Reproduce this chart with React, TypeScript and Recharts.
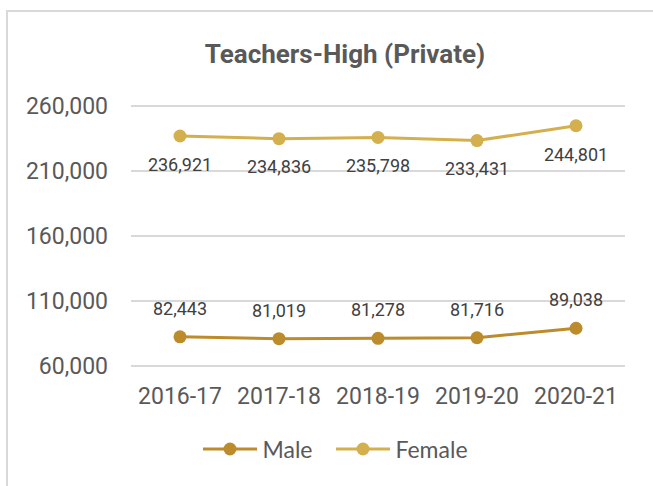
import { LineChart, Line, XAxis, YAxis, CartesianGrid, LabelList, Legend } from 'recharts'

const years = ['2016-17', '2017-18', '2018-19', '2019-20', '2020-21']
const male = [82443, 81019, 81278, 81716, 89038]
const female = [236921, 234836, 235798, 233431, 244801]
const yTicks = [60000, 110000, 160000, 210000, 260000]

const MALE_COLOR = '#BC8C2C'
const FEMALE_COLOR = '#D4AF4E'
const TEXT = '#595959'

const data = years.map((year, i) => ({ year, Male: male[i], Female: female[i] }))

const fmt = (v: number) => v.toLocaleString('en-US')

function LegendContent() {
  const items = [
    { name: 'Male', color: MALE_COLOR },
    { name: 'Female', color: FEMALE_COLOR },
  ]
  return (
    <div style={{ display: 'flex', justifyContent: 'center', height: 30, alignItems: 'center', paddingLeft: 46, gap: 24 }}>
      {items.map((it) => (
        <div key={it.name} style={{ display: 'flex', alignItems: 'center' }}>
          <svg width={54} height={16}>
            <line x1={0} y1={8} x2={54} y2={8} stroke={it.color} strokeWidth={3} />
            <circle cx={27} cy={8} r={6.5} fill={it.color} />
          </svg>
          <span style={{ fontFamily: 'Lato', fontSize: 23, color: TEXT, marginLeft: 5 }}>{it.name}</span>
        </div>
      ))}
    </div>
  )
}

export default function App() {
  return (
    <div style={{ position: 'fixed', left: 0, top: 0, width: 653, height: 486, background: '#fff', overflow: 'hidden' }}>
      <div
        style={{
          position: 'absolute',
          left: 6,
          top: 10,
          width: 720,
          height: 520,
          borderTop: '2px solid #d9d9d9',
          borderLeft: '2px solid #d9d9d9',
        }}
      />
      <div
        style={{
          position: 'absolute',
          left: 0,
          top: 39,
          width: 690,
          textAlign: 'center',
          fontFamily: 'Roboto',
          fontWeight: 700,
          fontSize: 26,
          color: TEXT,
        }}
      >
        Teachers-High (Private)
      </div>
      <div style={{ position: 'absolute', left: 0, top: 0 }}>
        <LineChart width={653} height={486} data={data} margin={{ top: 106, right: 28, bottom: 22, left: 0 }}>
          <CartesianGrid vertical={false} stroke="#d9d9d9" strokeWidth={2} />
          <XAxis
            dataKey="year"
            axisLine={false}
            tickLine={false}
            tickSize={0}
            tickMargin={22}
            height={68}
            padding={{ left: 49, right: 49 }}
            tick={{ fill: TEXT, fontSize: 23, fontFamily: 'Roboto' }}
          />
          <YAxis
            domain={[60000, 260000]}
            ticks={yTicks}
            axisLine={false}
            tickLine={false}
            tickSize={0}
            tickMargin={23}
            width={131}
            tickFormatter={fmt}
            tick={{ fill: TEXT, fontSize: 23, fontFamily: 'Roboto' }}
          />
          <Legend verticalAlign="bottom" height={30} content={<LegendContent />} />
          <Line
            dataKey="Male"
            stroke={MALE_COLOR}
            strokeWidth={3}
            dot={{ r: 6.5, fill: MALE_COLOR, stroke: MALE_COLOR, strokeWidth: 0 }}
            isAnimationActive={false}
          >
            <LabelList dataKey="Male" position="top" offset={22} formatter={(v: any) => fmt(v)} fill="#404040" fontSize={18} fontFamily="Roboto" />
          </Line>
          <Line
            dataKey="Female"
            stroke={FEMALE_COLOR}
            strokeWidth={3}
            dot={{ r: 6.5, fill: FEMALE_COLOR, stroke: FEMALE_COLOR, strokeWidth: 0 }}
            isAnimationActive={false}
          >
            <LabelList dataKey="Female" position="bottom" offset={22} formatter={(v: any) => fmt(v)} fill="#404040" fontSize={18} fontFamily="Roboto" />
          </Line>
        </LineChart>
      </div>
    </div>
  )
}
